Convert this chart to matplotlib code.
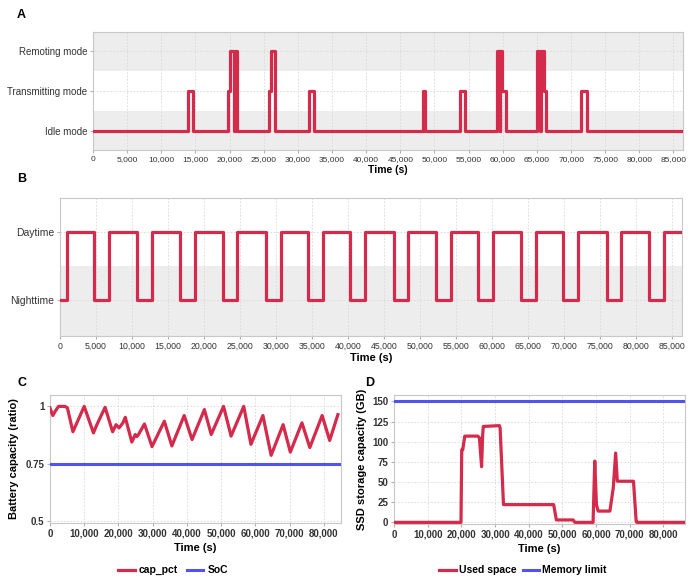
import numpy as np
import matplotlib
matplotlib.use('Agg')
import matplotlib.pyplot as plt
from matplotlib.ticker import FuncFormatter, MultipleLocator

# ---- data ----
# A: operation mode (0 idle, 1 transmitting, 2 remoting), change times in s
mode_names = ['Idle mode', 'Transmitting mode', 'Remoting mode']
mode_t = [0, 13900, 14700, 19700, 20050, 20600, 20750, 21100, 25700, 26000, 26600,
          31600, 32400, 48300, 48550, 53700, 54500, 59200, 59550, 59650, 59950, 60450,
          65000, 65400, 65650, 66000, 66350, 71500, 72300, 86400]
mode_v = [0, 1, 0, 1, 2, 0, 2, 0, 1, 2, 0,
          1, 0, 1, 0, 1, 0, 2, 0, 2, 1, 0,
          2, 0, 2, 1, 0, 1, 0, 0]

# B: day / night, change times in s
day_names = ['Nighttime', 'Daytime']
day_t = [0, 930, 4780, 6820, 10730, 12840, 16690, 18800, 22580, 24630, 28600, 30650,
         34430, 36540, 40320, 42430, 46340, 48390, 52230, 54280, 58130, 60170,
         64080, 66070, 69910, 72020, 75930, 77980, 81820, 83930, 86400]
day_v = [0, 1, 0, 1, 0, 1, 0, 1, 0, 1, 0, 1,
         0, 1, 0, 1, 0, 1, 0, 1, 0, 1,
         0, 1, 0, 1, 0, 1, 0, 1, 1]

# C: battery capacity ratio
cap_t = [0, 830, 1500, 2500, 4400, 5100, 6700, 10000, 12700, 13700, 16100, 18300,
         19300, 20200, 21300, 22000, 23900, 24900, 25400, 25900, 27600, 29800, 33400,
         35600, 39200, 41500, 45100, 47100, 50700, 52900, 56600, 58700, 62200, 64600,
         68100, 70200, 73600, 75900, 79500, 81700, 84100]
cap_pct = [0.993, 0.96, 0.978, 1.0, 1.0, 0.993, 0.889, 1.0, 0.884, 0.92, 0.996, 0.889,
           0.92, 0.906, 0.928, 0.952, 0.844, 0.877, 0.868, 0.878, 0.923, 0.824, 0.935,
           0.827, 0.96, 0.855, 0.986, 0.877, 1.0, 0.87, 1.0, 0.834, 0.96, 0.786,
           0.92, 0.80, 0.928, 0.82, 0.96, 0.851, 0.964]
soc = 0.75

# D: SSD used space (GB)
ssd_t = [0, 19880, 20100, 20400, 21000, 24850, 25350, 26000, 26300, 26500, 31300, 31500,
         32500, 47400, 48200, 53200, 53700, 59100, 59600, 60100, 60600, 64100, 65100,
         65800, 66300, 71100, 71900, 72100, 86400]
ssd_used = [0, 0, 90, 90, 107, 107, 105, 69, 107, 119, 120, 117,
            22, 22, 3, 3, 0, 0, 76, 22, 14, 14, 43,
            86, 51, 51, 1, 0, 0]
mem_limit = 150

red = '#d42a4b'
blue = '#5252f0'
band = '#ededed'
fam = ['Liberation Sans', 'DejaVu Sans']
plt.rcParams['font.family'] = fam

fig = plt.figure(figsize=(7, 5.82), dpi=100)

def thousands(x, pos):
    return f'{int(x):,}'

def style_frame(ax):
    for s in ax.spines.values():
        s.set_color('#c8c8c8')
        s.set_linewidth(0.8)
    ax.tick_params(length=2, color='#b0b0b0', pad=2)

# ---- A ----
axA = fig.add_axes([0.1329, 0.742, 0.8429, 0.2027])
for k in range(3):
    if k != 1:
        axA.axhspan(k - 0.5, k + 0.5, color=band, zorder=0, lw=0)
axA.plot(mode_t, mode_v, drawstyle='steps-post', color=red, lw=2.3,
         solid_joinstyle='round', solid_capstyle='round', zorder=3)
axA.set_xlim(0, 86400)
axA.set_ylim(-0.48, 2.48)
axA.set_yticks(range(3))
axA.set_yticklabels(mode_names, fontsize=7)
axA.xaxis.set_major_locator(MultipleLocator(5000))
axA.xaxis.set_major_formatter(FuncFormatter(thousands))
axA.tick_params(axis='x', labelsize=6)
axA.grid(True, color='#d8d8d8', lw=0.6, ls=(0, (2, 2)), zorder=1)
axA.set_xlabel('Time (s)', fontsize=7.5, fontweight='bold', labelpad=2)
style_frame(axA)
fig.text(17 / 700, 1 - 15 / 582, 'A', fontsize=9, fontweight='bold', ha='left', va='center')

# ---- B ----
axB = fig.add_axes([0.0857, 0.4227, 0.8886, 0.2371])
axB.axhspan(-0.6, 0.5, color=band, zorder=0, lw=0)
axB.plot(day_t, day_v, drawstyle='steps-post', color=red, lw=2.3,
         solid_joinstyle='round', solid_capstyle='round', zorder=3)
axB.set_xlim(0, 86400)
axB.set_ylim(-0.52, 1.5)
axB.set_yticks([0, 1])
axB.set_yticklabels(day_names, fontsize=7.5)
axB.xaxis.set_major_locator(MultipleLocator(5000))
axB.xaxis.set_major_formatter(FuncFormatter(thousands))
axB.tick_params(axis='x', labelsize=6.3)
axB.grid(True, color='#d8d8d8', lw=0.6, ls=(0, (2, 2)), zorder=1)
axB.set_xlabel('Time (s)', fontsize=8, fontweight='bold', labelpad=2)
style_frame(axB)
fig.text(17 / 700, 1 - 179 / 582, 'B', fontsize=9, fontweight='bold', ha='left', va='center')

# ---- C ----
axC = fig.add_axes([0.0714, 0.1014, 0.4157, 0.22])
axC.plot(cap_t, cap_pct, color=red, lw=2.3, solid_joinstyle='round', label='cap_pct', zorder=3)
axC.axhline(soc, color=blue, lw=2.2, label='SoC', zorder=3)
axC.set_xlim(0, 85000)
axC.set_ylim(0.49, 1.05)
axC.set_yticks([0.5, 0.75, 1])
axC.set_yticklabels(['0.5', '0.75', '1'])
axC.xaxis.set_major_locator(MultipleLocator(10000))
axC.xaxis.set_major_formatter(FuncFormatter(thousands))
axC.grid(True, color='#d8d8d8', lw=0.6, ls=(0, (2, 2)), zorder=1)
axC.set_xlabel('Time (s)', fontsize=8, fontweight='bold', labelpad=3)
axC.set_ylabel('Battery capacity (ratio)', fontsize=8, fontweight='bold', labelpad=5)
style_frame(axC)
axC.legend(loc='center', bbox_to_anchor=(0.423, -0.37), ncol=2, frameon=False,
           prop={'weight': 'bold', 'size': 7.5},
           handlelength=1.6, columnspacing=0.8, handletextpad=0.4)
fig.text(18 / 700, 1 - 383 / 582, 'C', fontsize=9, fontweight='bold', ha='left', va='center')

# ---- D ----
axD = fig.add_axes([0.5629, 0.0997, 0.4157, 0.2216])
axD.plot(ssd_t, ssd_used, color=red, lw=2.3, solid_joinstyle='round', label='Used space', zorder=3)
axD.axhline(mem_limit, color=blue, lw=2.2, label='Memory limit', zorder=3)
axD.set_xlim(0, 86400)
axD.set_ylim(-2, 158)
axD.yaxis.set_major_locator(MultipleLocator(25))
axD.xaxis.set_major_locator(MultipleLocator(10000))
axD.xaxis.set_major_formatter(FuncFormatter(thousands))
axD.grid(True, color='#d8d8d8', lw=0.6, ls=(0, (2, 2)), zorder=1)
axD.set_xlabel('Time (s)', fontsize=8, fontweight='bold', labelpad=3)
axD.set_ylabel('SSD storage capacity (GB)', fontsize=8, fontweight='bold', labelpad=4)
style_frame(axD)
axD.legend(loc='center', bbox_to_anchor=(0.443, -0.36), ncol=2, frameon=False,
           prop={'weight': 'bold', 'size': 7.5},
           handlelength=1.6, columnspacing=0.6, handletextpad=0.3)
fig.text(365 / 700, 1 - 383 / 582, 'D', fontsize=9, fontweight='bold', ha='left', va='center')

for ax in (axC, axD):
    for lab in ax.get_xticklabels() + ax.get_yticklabels():
        lab.set_fontweight('bold')
        lab.set_fontsize(7)
        lab.set_color('#333333')

for ax in (axA, axB):
    for lab in ax.get_xticklabels() + ax.get_yticklabels():
        lab.set_color('#333333')

fig.savefig('out.png', dpi=100)
